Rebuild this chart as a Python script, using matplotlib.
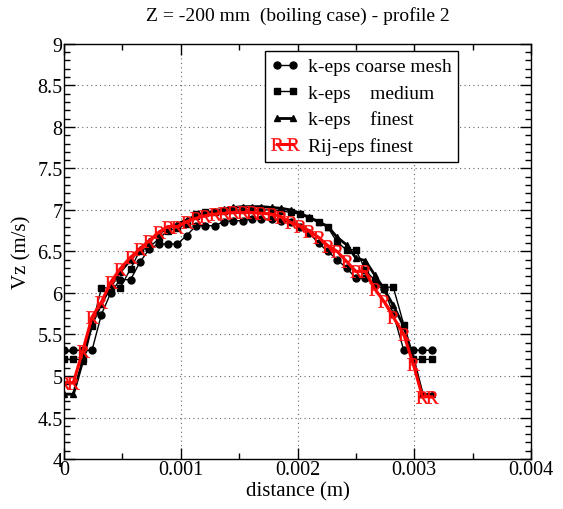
import matplotlib

matplotlib.use("Agg")
import matplotlib.pyplot as plt
from matplotlib.ticker import MultipleLocator

plt.rcParams["font.family"] = ["Liberation Serif", "DejaVu Serif"]
plt.rcParams["mathtext.fontset"] = "custom"
plt.rcParams["mathtext.rm"] = "Liberation Serif"

# distance along the profile, mm (converted to m when plotted)
distance_mm = [
    0.00, 0.08, 0.16, 0.24, 0.32, 0.40, 0.48, 0.57, 0.65, 0.73,
    0.81, 0.89, 0.97, 1.05, 1.13, 1.21, 1.29, 1.37, 1.45, 1.53,
    1.61, 1.69, 1.78, 1.86, 1.94, 2.02, 2.10, 2.18, 2.26, 2.34,
    2.42, 2.50, 2.58, 2.66, 2.74, 2.82, 2.91, 2.99, 3.07, 3.15,
]

vz_coarse = [
    5.31, 5.31, 5.31, 5.31, 5.74, 6.00, 6.16, 6.16, 6.37, 6.53,
    6.59, 6.59, 6.59, 6.69, 6.81, 6.81, 6.81, 6.86, 6.87, 6.87,
    6.89, 6.89, 6.89, 6.87, 6.85, 6.80, 6.72, 6.60, 6.50, 6.40,
    6.30, 6.18, 6.18, 6.10, 6.05, 5.75, 5.31, 5.31, 5.31, 5.31,
]

vz_medium = [
    5.20, 5.20, 5.20, 5.60, 6.06, 6.06, 6.06, 6.29, 6.51, 6.55,
    6.65, 6.75, 6.78, 6.83, 6.95, 6.97, 6.97, 6.99, 7.00, 7.00,
    7.00, 7.00, 7.00, 6.99, 6.97, 6.95, 6.90, 6.85, 6.79, 6.61,
    6.52, 6.52, 6.28, 6.15, 6.07, 6.07, 5.62, 5.20, 5.20, 5.20,
]

vz_finest = [
    4.78, 4.78, 5.18, 5.63, 5.87, 6.08, 6.25, 6.40, 6.53, 6.63,
    6.72, 6.78, 6.83, 6.88, 6.93, 6.96, 6.99, 7.01, 7.03, 7.04,
    7.04, 7.04, 7.03, 7.02, 7.00, 6.96, 6.91, 6.86, 6.80, 6.67,
    6.58, 6.42, 6.39, 6.22, 6.05, 5.85, 5.60, 5.22, 4.78, 4.78,
]

vz_rij = [
    4.92, 4.92, 5.30, 5.71, 5.89, 6.13, 6.29, 6.43, 6.53, 6.63,
    6.73, 6.80, 6.80, 6.86, 6.90, 6.93, 6.95, 6.96, 6.97, 6.97,
    6.97, 6.96, 6.95, 6.92, 6.85, 6.81, 6.75, 6.67, 6.57, 6.50,
    6.38, 6.26, 6.26, 6.05, 5.90, 5.71, 5.50, 5.15, 4.75, 4.75,
]

x = [d * 1e-3 for d in distance_mm]

fig = plt.figure(figsize=(5.63, 5.10), dpi=100)
ax = fig.add_axes([0.1137, 0.098, 0.8295, 0.814])

ax.plot(x, vz_coarse, color="black", lw=1.0, marker="o", ms=5,
        label="k-eps coarse mesh")
ax.plot(x, vz_medium, color="black", lw=1.0, marker="s", ms=4.5,
        label="k-eps    medium")
ax.plot(x, vz_finest, color="black", lw=2.0, marker="^", ms=5,
        label="k-eps    finest")
ax.plot(x, vz_rij, color="#ff0000", lw=2.2, marker=r"$\mathrm{R}$", ms=9,
        mec="#ff2020", mew=0.3, label="Rij-eps finest")

ax.set_xlim(0, 0.004)
ax.set_ylim(4, 9)
ax.xaxis.set_major_locator(MultipleLocator(0.001))
ax.xaxis.set_minor_locator(MultipleLocator(0.0005))
ax.yaxis.set_major_locator(MultipleLocator(0.5))
ax.yaxis.set_minor_locator(MultipleLocator(0.1))
ax.xaxis.set_major_formatter(plt.FuncFormatter(lambda v, _: "0" if abs(v) < 1e-12 else f"{v:g}"))
ax.yaxis.set_major_formatter(plt.FuncFormatter(lambda v, _: f"{v:g}"))

ax.tick_params(which="both", direction="in", top=True, right=True, labelsize=14.5)
ax.tick_params(which="major", length=8, width=1)
ax.tick_params(which="minor", length=4, width=1)
ax.tick_params(axis="x", pad=1)
ax.tick_params(axis="y", pad=1)
for s in ax.spines.values():
    s.set_linewidth(1.0)

ax.grid(True, which="major", linestyle=(0, (1, 3)), color="#666666", lw=0.8)

ax.set_xlabel("distance (m)", fontsize=15, labelpad=1)
ax.set_ylabel("Vz (m/s)", fontsize=15, labelpad=4)
ax.set_title("Z = -200 mm  (boiling case) - profile 2", fontsize=14, pad=17)

leg = ax.legend(loc="upper left", bbox_to_anchor=(0.43, 0.983), borderaxespad=0,
                fontsize=14, numpoints=2, handlelength=1.4, handletextpad=0.45,
                labelspacing=0.45, borderpad=0.35, fancybox=False, framealpha=1)
leg.get_frame().set_edgecolor("black")
leg.get_frame().set_linewidth(1.0)

fig.savefig("out.png", dpi=100)
